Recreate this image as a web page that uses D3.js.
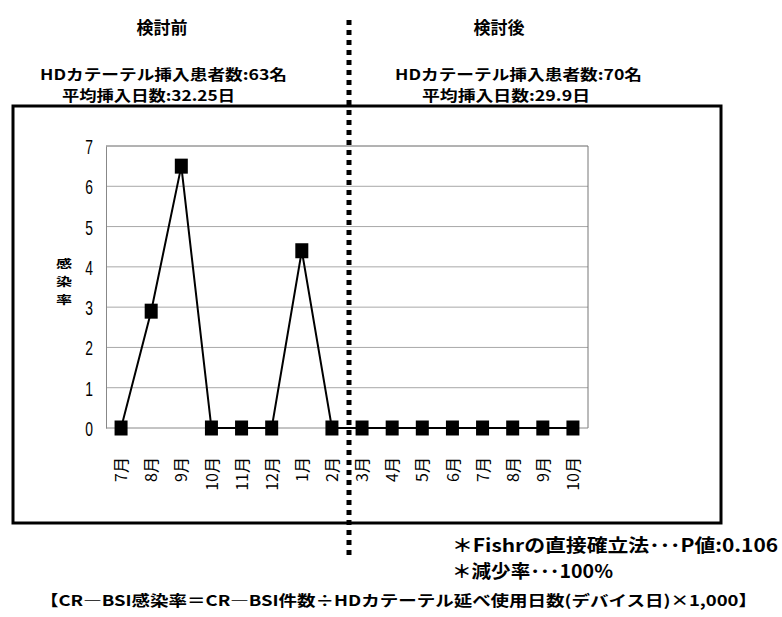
<!DOCTYPE html>
<html>
<head>
<meta charset="utf-8">
<script src="https://cdn.jsdelivr.net/npm/d3@7"></script>
<style>
  body { margin: 0; background: #fff; }
  text { font-family: "Noto Sans CJK JP", sans-serif; }
</style>
</head>
<body>
<div id="chart"></div>
<script>
// data
const months = ['7月', '8月', '9月', '10月', '11月', '12月', '1月', '2月',
                '3月', '4月', '5月', '6月', '7月', '8月', '9月', '10月'];
const rates = [0, 2.9, 6.5, 0, 0, 0, 4.4, 0, 0, 0, 0, 0, 0, 0, 0, 0];
const yTicks = [0, 1, 2, 3, 4, 5, 6, 7];
const headers = ['検討前', '検討後'];
const beforeNotes = ['HDカテーテル挿入患者数:63名', '平均挿入日数:32.25日'];
const afterNotes = ['HDカテーテル挿入患者数:70名', '平均挿入日数:29.9日'];
const footNotes = ['＊Fishrの直接確立法･･･P値:0.106', '＊減少率･･･100%'];
const formula = '【CR―BSI感染率＝CR―BSI件数÷HDカテーテル延べ使用日数(デバイス日)×1,000】';

const W = 782, H = 617;
const plot = { left: 106, right: 588, top: 146, bottom: 428 };

const svg = d3.select('#chart').append('svg')
    .attr('width', W)
    .attr('height', H);

// outer frame
svg.append('rect')
    .attr('x', 13).attr('y', 106)
    .attr('width', 708).attr('height', 417)
    .attr('fill', 'none')
    .attr('stroke', '#000')
    .attr('stroke-width', 3);

// scales (each month keeps its own slot)
const x = d3.scalePoint()
    .domain(d3.range(months.length))
    .range([plot.left, plot.right])
    .padding(0.5);

const y = d3.scaleLinear()
    .domain([0, 7])
    .range([plot.bottom, plot.top]);

// gridlines
svg.append('g')
    .selectAll('line')
    .data(yTicks.filter(t => t > 0))
    .enter()
    .append('line')
        .attr('x1', plot.left)
        .attr('x2', plot.right)
        .attr('y1', d => y(d))
        .attr('y2', d => y(d))
        .attr('stroke', d => d === 7 ? '#666' : '#a8a8a8')
        .attr('stroke-width', 1);

// plot box right side
svg.append('line')
    .attr('x1', plot.right).attr('x2', plot.right)
    .attr('y1', plot.top).attr('y2', plot.bottom)
    .attr('stroke', '#777');

// y axis
const yAxis = svg.append('g')
    .attr('transform', `translate(${plot.left},0)`)
    .call(d3.axisLeft(y).tickValues(yTicks).tickSize(0).tickFormat(d3.format('d')));
yAxis.select('.domain').attr('stroke', '#888');
yAxis.selectAll('text')
    .style('font-family', '"Liberation Sans", sans-serif')
    .attr('font-size', 21)
    .attr('fill', '#000')
    .attr('x', 0)
    .attr('dy', '0.36em')
    .attr('transform', 'translate(-13,0) scale(0.66,1)');

// x axis
const xAxis = svg.append('g')
    .attr('transform', `translate(0,${plot.bottom})`)
    .call(d3.axisBottom(x).tickSize(0).tickFormat(i => months[i]));
xAxis.select('.domain').attr('stroke', '#888')
    .attr('d', `M${plot.left},0H${plot.right}`);
xAxis.selectAll('text')
    .attr('font-size', 16)
    .attr('fill', '#000')
    .attr('text-anchor', 'end')
    .attr('dy', '0.35em')
    .attr('transform', 'translate(0,29) rotate(-90)')
    .attr('x', 0)
    .attr('y', 0);

// y label (stacked)
svg.append('g')
    .selectAll('text')
    .data(['感', '染', '率'])
    .enter()
    .append('text')
        .attr('text-anchor', 'middle')
        .attr('font-size', 14)
        .attr('font-weight', 'bold')
        .attr('transform', (d, i) => `translate(64,${268 + i * 18}) scale(1.15,0.85)`)
        .text(d => d);

// line
const line = d3.line()
    .x((d, i) => x(i))
    .y(d => y(d));

svg.append('path')
    .datum(rates)
    .attr('d', line)
    .attr('fill', 'none')
    .attr('stroke', '#000')
    .attr('stroke-width', 2);

// markers
svg.append('g')
    .selectAll('rect')
    .data(rates)
    .enter()
    .append('rect')
        .attr('x', (d, i) => x(i) - 6.5)
        .attr('y', d => y(d) - 7.5)
        .attr('width', 13)
        .attr('height', 15)
        .attr('fill', '#000');

// divider
svg.append('line')
    .attr('x1', 349).attr('x2', 349)
    .attr('y1', 20).attr('y2', 556)
    .attr('stroke', '#000')
    .attr('stroke-width', 5)
    .attr('stroke-dasharray', '5,5');

// headers
const headerX = [162, 499];
headers.forEach((t, k) => {
    svg.append('text')
        .attr('x', headerX[k]).attr('y', 34)
        .attr('text-anchor', 'middle')
        .attr('font-size', 17).attr('font-weight', 'bold')
        .text(t);
});

// patient notes: [left, width]
const noteBox = [[[40, 247], [62, 173]], [[395, 247], [422, 168]]];
[beforeNotes, afterNotes].forEach((notes, k) => {
    notes.forEach((t, i) => {
        svg.append('text')
            .attr('x', noteBox[k][i][0])
            .attr('y', 80 + i * 21)
            .attr('font-size', 14.5)
            .attr('font-weight', 'bold')
            .attr('textLength', noteBox[k][i][1])
            .attr('lengthAdjust', 'spacingAndGlyphs')
            .text(t);
    });
});

// footnotes
const footW = [326, 161];
footNotes.forEach((t, i) => {
    svg.append('text')
        .attr('x', 452).attr('y', 552 + i * 26)
        .attr('font-size', 18).attr('font-weight', 'bold')
        .attr('textLength', footW[i])
        .attr('lengthAdjust', 'spacingAndGlyphs')
        .text(t);
});
svg.append('text')
    .attr('x', 40).attr('y', 606)
    .attr('font-size', 15).attr('font-weight', 'bold')
    .attr('textLength', 717)
    .attr('lengthAdjust', 'spacingAndGlyphs')
    .text(formula);
</script>
</body>
</html>
